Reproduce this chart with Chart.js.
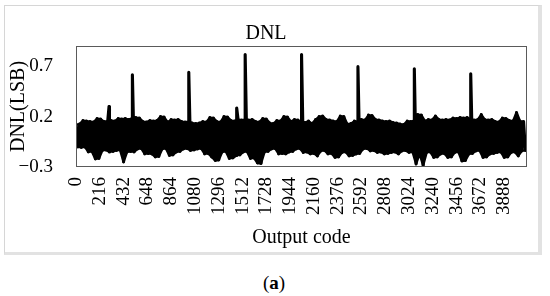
<!DOCTYPE html>
<html>
<head>
<meta charset="utf-8">
<script src="https://cdn.jsdelivr.net/npm/chart.js@4/dist/chart.umd.min.js"></script>
<style>
  html, body { margin: 0; padding: 0; background: #ffffff; }
  body { width: 550px; height: 296px; position: relative; overflow: hidden; }
  #frame { position: absolute; left: 4px; top: 5px; width: 538px; height: 250px; box-sizing: border-box;
           border-left: 1px solid #d6d6d6; border-top: 1px solid #d6d6d6;
           border-right: 4px solid #e2e2e2; border-bottom: 3px solid #e2e2e2; }
  #wrap { position: absolute; left: 5px; top: 6px; width: 533px; height: 246px; }
  #caption { position: absolute; left: 0; top: 272px; width: 548px; text-align: center;
             font: 19px 'Liberation Serif', 'Times New Roman', serif; line-height: 22px; color: #000; }
</style>
</head>
<body>
<div id="frame"></div>
<div id="wrap"><canvas id="c" width="533" height="246"></canvas></div>
<div id="caption">(<b>a</b>)</div>
<script>
// ---- data ----
const codeStep = 16;            // spacing (in output codes) between successive sampled vertices
const xTickLabels = [0, 216, 432, 648, 864, 1080, 1296, 1512, 1728, 1944, 2160, 2376, 2592, 2808, 3024, 3240, 3456, 3672, 3888];
const yTickLabels = [-0.3, 0.2, 0.7];

// upper excursions of the DNL band (one every 32 codes, starting at code 0)
const dnlHigh = [
  0.12, 0.125, 0.16, 0.155, 0.15, 0.145, 0.18, 0.175, 0.15, 0.155, 0.16, 0.155, 0.18, 0.175, 0.18, 0.17,
  0.185, 0.19, 0.185, 0.15, 0.145, 0.16, 0.155, 0.16, 0.2, 0.195, 0.145, 0.17, 0.165, 0.17, 0.15, 0.145,
  0.15, 0.135, 0.13, 0.135, 0.15, 0.145, 0.19, 0.185, 0.15, 0.145, 0.2, 0.195, 0.16, 0.155, 0.17, 0.165,
  0.17, 0.165, 0.17, 0.15, 0.145, 0.18, 0.175, 0.135, 0.13, 0.16, 0.155, 0.2, 0.195, 0.15, 0.17, 0.165,
  0.14, 0.14, 0.155, 0.13, 0.17, 0.2, 0.205, 0.17, 0.165, 0.155, 0.15, 0.205, 0.2, 0.125, 0.13, 0.155,
  0.15, 0.17, 0.165, 0.215, 0.21, 0.17, 0.165, 0.155, 0.15, 0.155, 0.14, 0.135, 0.125, 0.12, 0.155, 0.15,
  0.16, 0.22, 0.215, 0.155, 0.17, 0.165, 0.205, 0.17, 0.165, 0.17, 0.165, 0.185, 0.18, 0.19, 0.185, 0.19,
  0.17, 0.165, 0.17, 0.22, 0.17, 0.165, 0.17, 0.15, 0.145, 0.185, 0.18, 0.16, 0.155, 0.24, 0.155, 0.15
];
// lower excursions of the DNL band (one every 32 codes, starting at code 16)
const dnlLow = [
  -0.10, -0.105, -0.10, -0.15, -0.145, -0.22, -0.215, -0.135, -0.13, -0.15, -0.145, -0.135, -0.13, -0.25, -0.15, -0.145,
  -0.15, -0.12, -0.115, -0.17, -0.165, -0.17, -0.2, -0.195, -0.12, -0.115, -0.185, -0.18, -0.15, -0.145, -0.12, -0.115,
  -0.135, -0.13, -0.12, -0.115, -0.17, -0.165, -0.2, -0.235, -0.23, -0.15, -0.145, -0.215, -0.21, -0.185, -0.18, -0.15,
  -0.145, -0.215, -0.21, -0.26, -0.265, -0.15, -0.145, -0.12, -0.115, -0.17, -0.165, -0.17, -0.15, -0.145, -0.12, -0.115,
  -0.155, -0.15, -0.17, -0.165, -0.19, -0.14, -0.135, -0.17, -0.165, -0.205, -0.2, -0.155, -0.15, -0.19, -0.185, -0.17,
  -0.165, -0.12, -0.115, -0.14, -0.135, -0.155, -0.15, -0.17, -0.165, -0.155, -0.15, -0.17, -0.14, -0.135, -0.155, -0.15,
  -0.27, -0.17, -0.285, -0.155, -0.15, -0.205, -0.2, -0.17, -0.165, -0.205, -0.2, -0.155, -0.15, -0.24, -0.235, -0.17,
  -0.165, -0.14, -0.135, -0.205, -0.2, -0.17, -0.165, -0.155, -0.15, -0.205, -0.2, -0.155, -0.15, -0.19, -0.14, -0.135
];
// isolated large DNL codes
const spikeCodes  = [300, 512, 1024, 1459, 1536, 2048, 2560, 3072, 3584];
const spikeValues = [0.30, 0.615, 0.64, 0.285, 0.815, 0.815, 0.695, 0.675, 0.625];

// ---- build the point tables for the library ----
const upperPts = dnlHigh.map((v, i) => ({ x: 2 * i * codeStep, y: v }));
const lowerPts = dnlLow.map((v, i) => ({ x: (2 * i + 1) * codeStep, y: v }));
const points = [];
for (let i = 0; i < dnlHigh.length; i++) { points.push(upperPts[i]); points.push(lowerPts[i]); }
for (let k = 0; k < spikeCodes.length; k++) points.push({ x: spikeCodes[k], y: spikeValues[k] });
points.sort((a, b) => a.x - b.x);

const FONT = "'Liberation Serif', 'Times New Roman', serif";

const frameBox = {
  id: 'frameBox',
  afterDatasetsDraw(chart) {
    const { ctx, chartArea: a } = chart;
    ctx.save();
    ctx.strokeStyle = '#5a5a5a';
    ctx.lineWidth = 1;
    ctx.strokeRect(Math.round(a.left) + 0.5, Math.round(a.top) + 0.5,
                   Math.round(a.right - a.left) - 1, Math.round(a.bottom - a.top) - 1);
    ctx.restore();
  }
};

const lineStyle = { borderColor: '#000000', borderJoinStyle: 'round', borderCapStyle: 'round',
                    pointRadius: 0, tension: 0 };

new Chart(document.getElementById('c'), {
  type: 'line',
  data: {
    datasets: [
      Object.assign({ data: upperPts, borderWidth: 2.4, fill: '+1', backgroundColor: '#000000' }, lineStyle),
      Object.assign({ data: lowerPts, borderWidth: 2.4, fill: false }, lineStyle),
      Object.assign({ data: points, borderWidth: 3.1, fill: false }, lineStyle)
    ]
  },
  options: {
    responsive: false,
    animation: false,
    devicePixelRatio: 1,
    parsing: false,
    layout: { padding: { left: 0, right: 11, top: 0, bottom: 0 } },
    plugins: {
      legend: { display: false },
      tooltip: { enabled: false },
      title: {
        display: true, text: 'DNL', color: '#000',
        font: { family: FONT, size: 20, weight: 'normal' },
        padding: { top: 16, bottom: 0 }
      }
    },
    scales: {
      x: {
        type: 'linear', min: 0, max: 4095,
        grid: { display: false, drawTicks: false },
        border: { display: false },
        afterBuildTicks: (s) => { s.ticks = xTickLabels.map(v => ({ value: v })); },
        afterFit: (s) => { s.height = 85; },
        ticks: {
          autoSkip: false, minRotation: 90, maxRotation: 90, padding: 10,
          color: '#000', font: { family: FONT, size: 19 },
          callback: (v) => String(v)
        },
        title: {
          display: true, text: 'Output code', color: '#000',
          font: { family: FONT, size: 20 }, padding: { top: 0, bottom: 2 }
        }
      },
      y: {
        min: -0.3, max: 0.9,
        grid: { display: false, drawTicks: false },
        border: { display: false },
        afterBuildTicks: (s) => { s.ticks = yTickLabels.map(v => ({ value: v })); },
        afterFit: (s) => { s.width = 71; },
        ticks: {
          padding: 23, color: '#000', font: { family: FONT, size: 19 },
          callback: (v) => v.toFixed(1).replace('-', '\u2212')
        },
        title: {
          display: true, text: 'DNL(LSB)', color: '#000',
          font: { family: FONT, size: 20 }, padding: { top: 2, bottom: 0 }
        }
      }
    }
  },
  plugins: [frameBox]
});
</script>
</body>
</html>
